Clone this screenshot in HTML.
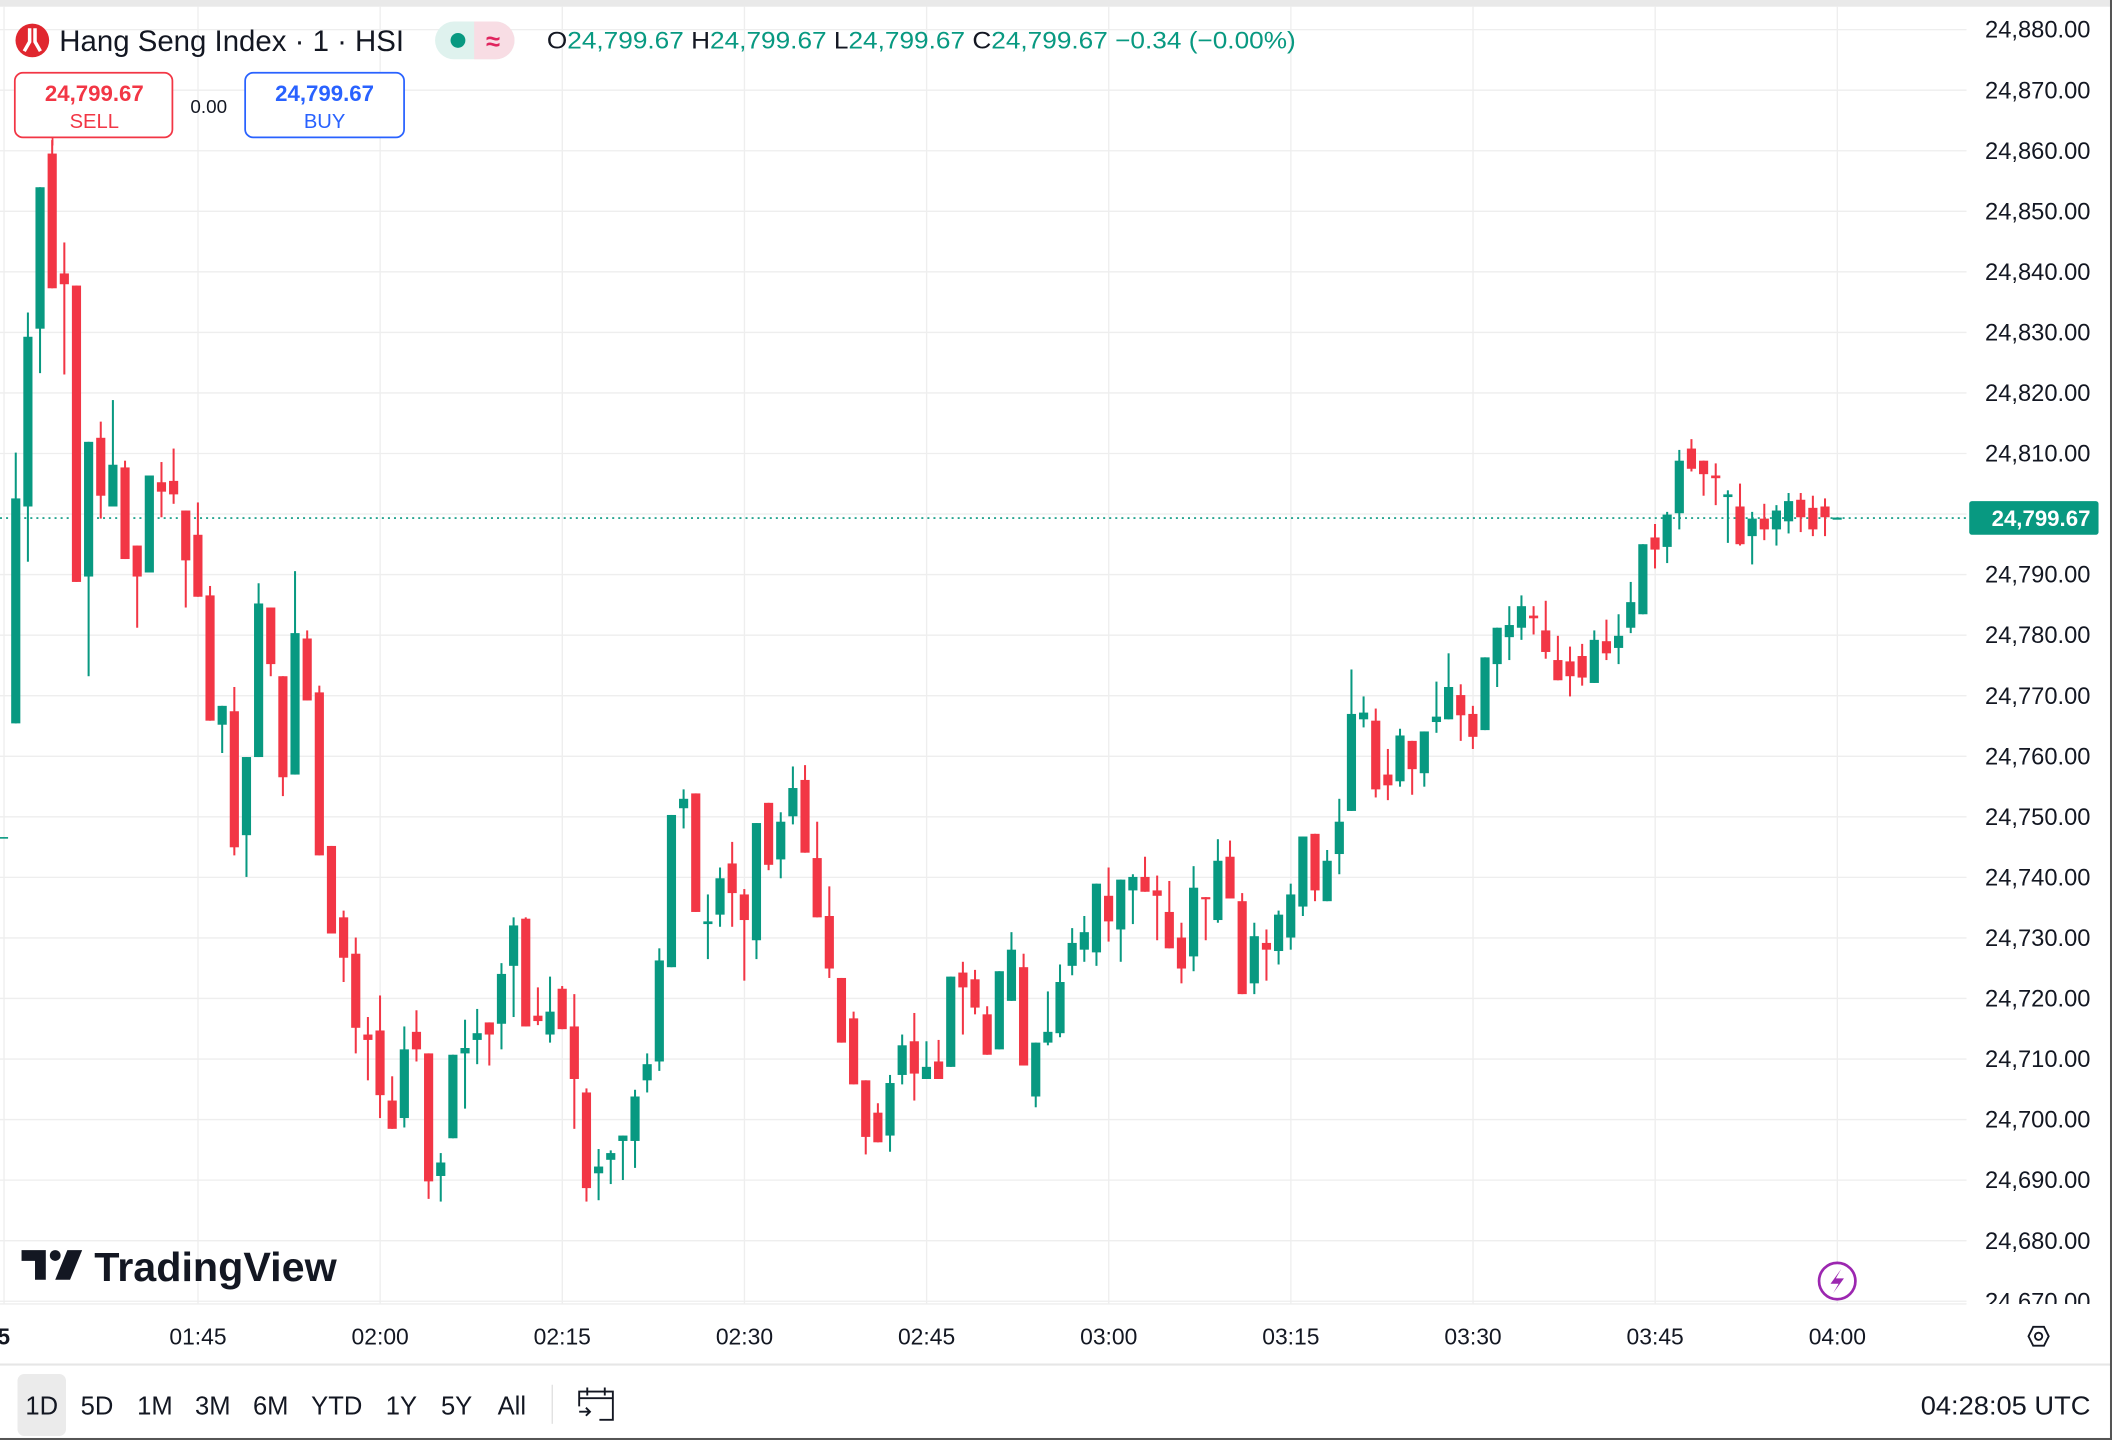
<!DOCTYPE html>
<html><head><meta charset="utf-8"><style>
html,body{margin:0;padding:0;background:#fff;}
svg{display:block;}
text{font-family:"Liberation Sans",sans-serif;}
</style></head><body>
<svg id="s" xmlns="http://www.w3.org/2000/svg" width="2112" height="1440" viewBox="0 0 1568 1069" preserveAspectRatio="none">
<defs><clipPath id="pc"><rect x="1460" y="0" width="108" height="968"/></clipPath></defs>
<rect x="0" y="0" width="1568" height="1069" fill="#fff"/>
<g id="grid"></g>
<line x1="0" y1="384.6" x2="1460" y2="384.6" stroke="#089981" stroke-width="1.2" stroke-dasharray="1.5 3"/>
<line x1="0" y1="622" x2="6" y2="622" stroke="#089981" stroke-width="1.2"/>
<g id="candles"></g>
<g id="plabels" font-size="17.6" fill="#131722" text-anchor="end" clip-path="url(#pc)"></g>
<rect x="1462" y="372" width="96" height="25" rx="2" fill="#089981"/>
<text x="1552" y="390.5" font-size="16.5" font-weight="bold" fill="#fff" text-anchor="end">24,799.67</text>
<!-- header -->
<rect x="0" y="0" width="1568" height="5" fill="#e9e9e9"/>
<circle cx="24" cy="30" r="12.5" fill="#e0272f"/>
<path d="M22 21 L22 31 L18 38 M26 21 L26 31 L30 38" stroke="#fff" stroke-width="2.6" fill="none"/>
<text x="44" y="38" font-size="22" fill="#131722" textLength="256" lengthAdjust="spacingAndGlyphs">Hang Seng Index · 1 · HSI</text>
<rect x="323" y="16" width="59" height="28" rx="14" fill="#dff2ee"/>
<path d="M352 16 H368 A14 14 0 0 1 368 44 H352 Z" fill="#f8dde4"/>
<circle cx="340" cy="30" r="5.5" fill="#089981"/>
<text x="366" y="37" font-size="19" font-weight="bold" fill="#e0245e" text-anchor="middle">≈</text>
<text x="406" y="36" font-size="18" fill="#131722" textLength="556" lengthAdjust="spacingAndGlyphs">O<tspan fill="#089981">24,799.67</tspan> H<tspan fill="#089981">24,799.67</tspan> L<tspan fill="#089981">24,799.67</tspan> C<tspan fill="#089981">24,799.67</tspan> <tspan fill="#089981">−0.34 (−0.00%)</tspan></text>
<rect x="11" y="54" width="117" height="48" rx="6" fill="#fff" stroke="#f23645" stroke-width="1.3"/>
<text x="70" y="75" font-size="16.5" font-weight="bold" fill="#f23645" text-anchor="middle">24,799.67</text>
<text x="70" y="95" font-size="15" fill="#f23645" text-anchor="middle">SELL</text>
<line x1="39" y1="102" x2="39" y2="108" stroke="#f23645" stroke-width="1.3"/>
<text x="155" y="84" font-size="14" fill="#131722" text-anchor="middle">0.00</text>
<rect x="182" y="54" width="118" height="48" rx="6" fill="#fff" stroke="#2962ff" stroke-width="1.3"/>
<text x="241" y="75" font-size="16.5" font-weight="bold" fill="#2962ff" text-anchor="middle">24,799.67</text>
<text x="241" y="95" font-size="15" fill="#2962ff" text-anchor="middle">BUY</text>
<!-- watermark -->
<path d="M16 928 H34 V950 H26 V936 H16 Z" fill="#131722"/>
<circle cx="41" cy="932" r="4" fill="#131722"/>
<path d="M50 928 H61 L52 950 H41 Z" fill="#131722"/>
<text x="70" y="951" font-size="30" font-weight="bold" fill="#131722" textLength="180" lengthAdjust="spacingAndGlyphs">TradingView</text>
<circle cx="1364" cy="951" r="13.5" fill="#fff" stroke="#9c27b0" stroke-width="2"/>
<path d="M1367 942 L1359 953 L1365 953 L1361 960 L1369 949 L1363 949 Z" fill="#9c27b0"/>
<!-- time axis -->
<line x1="0" y1="968" x2="1460" y2="968" stroke="#eee" stroke-width="1"/>
<g id="tlabels" font-size="17" fill="#131722" text-anchor="middle"></g>
<text x="-2" y="998" font-size="17" font-weight="bold" fill="#131722">5</text>
<path d="M1506 992 L1509.5 985 L1517.5 985 L1521 992 L1517.5 999 L1509.5 999 Z" fill="none" stroke="#131722" stroke-width="1.4"/>
<circle cx="1513.5" cy="992" r="2.7" fill="none" stroke="#131722" stroke-width="1.4"/>
<line x1="0" y1="1013" x2="1568" y2="1013" stroke="#e6e6e6" stroke-width="1.5"/>
<!-- bottom bar -->
<rect x="13" y="1020" width="36" height="46" rx="5" fill="#ebebeb"/>
<g font-size="19" fill="#131722" text-anchor="middle">
<text x="31" y="1050">1D</text><text x="72" y="1050">5D</text><text x="115" y="1050">1M</text><text x="158" y="1050">3M</text><text x="201" y="1050">6M</text><text x="250" y="1050">YTD</text><text x="298" y="1050">1Y</text><text x="339" y="1050">5Y</text><text x="380" y="1050">All</text>
</g>
<line x1="410" y1="1028" x2="410" y2="1057" stroke="#e0e0e0" stroke-width="1"/>
<path d="M430 1044 V1033 H455 V1054 H445 M430 1038 H455 M436 1030 V1036 M449 1030 V1036 M430 1048 H438 M435 1045 L438 1048 L435 1051" fill="none" stroke="#131722" stroke-width="1.4"/>
<text x="1552" y="1050" font-size="19" fill="#131722" text-anchor="end" textLength="126" lengthAdjust="spacingAndGlyphs">04:28:05 UTC</text>
<rect x="1566.5" y="0" width="1.5" height="1069" fill="#555"/>
<rect x="0" y="1067.5" width="1568" height="1.5" fill="#555"/>
</svg>
<script>
var NS="http://www.w3.org/2000/svg";
function el(p,t,a,txt){var e=document.createElementNS(NS,t);for(var k in a)e.setAttribute(k,a[k]);if(txt!==undefined)e.textContent=txt;p.appendChild(e);return e;}
var grid=document.getElementById('grid'),pl=document.getElementById('plabels'),tl=document.getElementById('tlabels');
for(var i=0;i<=21;i++){var p=24880-i*10,y=22+i*44.952;
 if(y<966) el(grid,'line',{x1:0,y1:y,x2:1460,y2:y,stroke:'#eeeeee','stroke-width':1});
 el(pl,'text',{x:1552,y:y+6},(p/1000|0)+','+String(p%1000).padStart(3,'0')+'.00');}
el(grid,'line',{x1:3,y1:5,x2:3,y2:968,stroke:'#eeeeee','stroke-width':1});
var times=['01:45','02:00','02:15','02:30','02:45','03:00','03:15','03:30','03:45','04:00'];
for(var j=0;j<times.length;j++){var x=147+j*135.23;
 el(grid,'line',{x1:x,y1:5,x2:x,y2:968,stroke:'#eeeeee','stroke-width':1});
 el(tl,'text',{x:x,y:998},times[j]);}
var D=[[1,370,537,336,537],[1,250,376,232,417],[1,139,244,139,277],[0,114,214,104,214],[0,203,211,180,278],[0,212,432,212,432],[1,328,428,328,502],[0,325,368,313,385],[1,345,376,297,376],[0,347,415,342,415],
[0,405,428,405,466],[1,353,425,353,425],[0,358,365,343,384],[0,357,367,333,374],[0,379,416,379,451],[0,397,443,373,443],[0,442,535,435,535],[1,524,538,524,559],[0,528,629,510,635],[1,562,620,562,651],
[1,448,562,433,562],[0,451,493,451,502],[0,502,577,502,591],[1,470,575,424,575],[0,474,520,468,520],[0,514,635,509,635],[0,628,693,628,693],[0,681,711,676,729],[0,708,763,696,782],[0,768,772,755,802],
[0,765,813,739,830],[0,817,838,799,838],[1,779,830,762,837],[0,766,779,750,788],[0,782,877,782,890],[1,863,873,856,892],[1,783,845,783,845],[1,778,782,757,823],[1,767,772,749,790],[0,759,768,759,791],
[1,723,760,715,779],[1,687,717,681,755],[0,682,762,681,762],[0,754,758,733,761],[1,751,768,725,774],[0,734,764,732,764],[0,762,801,738,838],[0,811,882,808,892],[1,866,871,853,891],[1,856,861,854,879],
[1,843,847,843,876],[1,814,847,809,867],[1,790,802,782,811],[1,713,788,704,795],[1,605,718,605,718],[1,593,600,586,615],[0,589,677,589,677],[1,684,686,664,712],[1,652,679,644,688],[0,641,663,625,688],
[0,664,683,660,728],[1,611,698,611,712],[0,596,642,596,646],[1,610,638,603,652],[1,585,606,569,612],[0,579,633,568,633],[0,637,681,610,681],[0,680,719,658,726],[0,726,774,726,774],[0,756,805,751,805],
[0,802,844,802,857],[0,826,848,819,848],[1,804,843,798,855],[1,776,798,768,805],[0,773,797,752,817],[1,792,801,773,801],[0,788,801,772,801],[1,725,792,725,792],[0,722,733,714,768],[0,727,748,720,753],
[0,753,783,747,783],[1,721,779,721,779],[1,705,743,692,743],[0,718,791,708,791],[1,774,814,774,822],[1,766,774,736,776],[1,729,767,716,770],[1,700,717,689,724],[1,692,705,680,714],[1,656,707,656,717],
[0,665,684,644,699],[1,653,690,653,714],[1,651,661,649,686],[0,651,662,636,662],[0,661,665,650,698],[0,677,704,654,704],[0,696,719,685,730],[1,659,710,643,721],[0,666,667,666,698],[1,639,683,623,685],
[0,636,667,624,667],[0,669,738,663,738],[1,695,730,685,738],[0,700,705,690,728],[1,679,706,676,716],[1,664,696,656,705],[1,621,673,621,680],[0,619,661,619,669],[1,639,669,631,669],[1,610,634,593,649],
[1,530,602,497,602],[1,529,534,517,540],[0,535,586,526,592],[0,575,583,556,594],[1,546,580,541,584],[0,550,571,550,590],[1,543,574,543,584],[1,532,536,506,544],[1,510,534,485,534],[0,516,531,508,550],
[0,530,547,524,556],[1,488,542,488,542],[1,466,493,466,510],[1,464,473,450,490],[1,450,466,442,475],[0,457,459,450,471],[0,468,484,446,489],[0,490,505,472,505],[0,491,502,480,517],[0,487,503,478,509],
[1,475,507,468,507],[0,476,485,460,490],[1,472,481,456,493],[1,447,466,432,470],[1,404,456,404,456],[0,399,408,389,422],[1,382,406,380,418],[1,342,381,334,393],[0,333,348,326,350],[0,342,352,342,368],
[0,353,355,344,375],[1,367,369,364,403],[0,376,404,359,405],[1,385,398,380,419],[0,385,393,374,401],[1,379,393,375,405],[1,372,387,366,396],[0,371,384,366,395],[0,377,393,368,398],[0,376,384,370,398],
[1,384.2,385.6,384.2,385.6]];
var cg=document.getElementById('candles');
for(var i=0;i<D.length;i++){var d=D[i],x=11.7+9.015*i,c=d[0]?'#089981':'#f23645';
 el(cg,'rect',{x:x-0.75,y:d[3],width:1.5,height:Math.max(d[4]-d[3],1),fill:c});
 el(cg,'rect',{x:x-3.4,y:d[1],width:6.8,height:Math.max(d[2]-d[1],1.6),fill:c});}
</script>
</body></html>
